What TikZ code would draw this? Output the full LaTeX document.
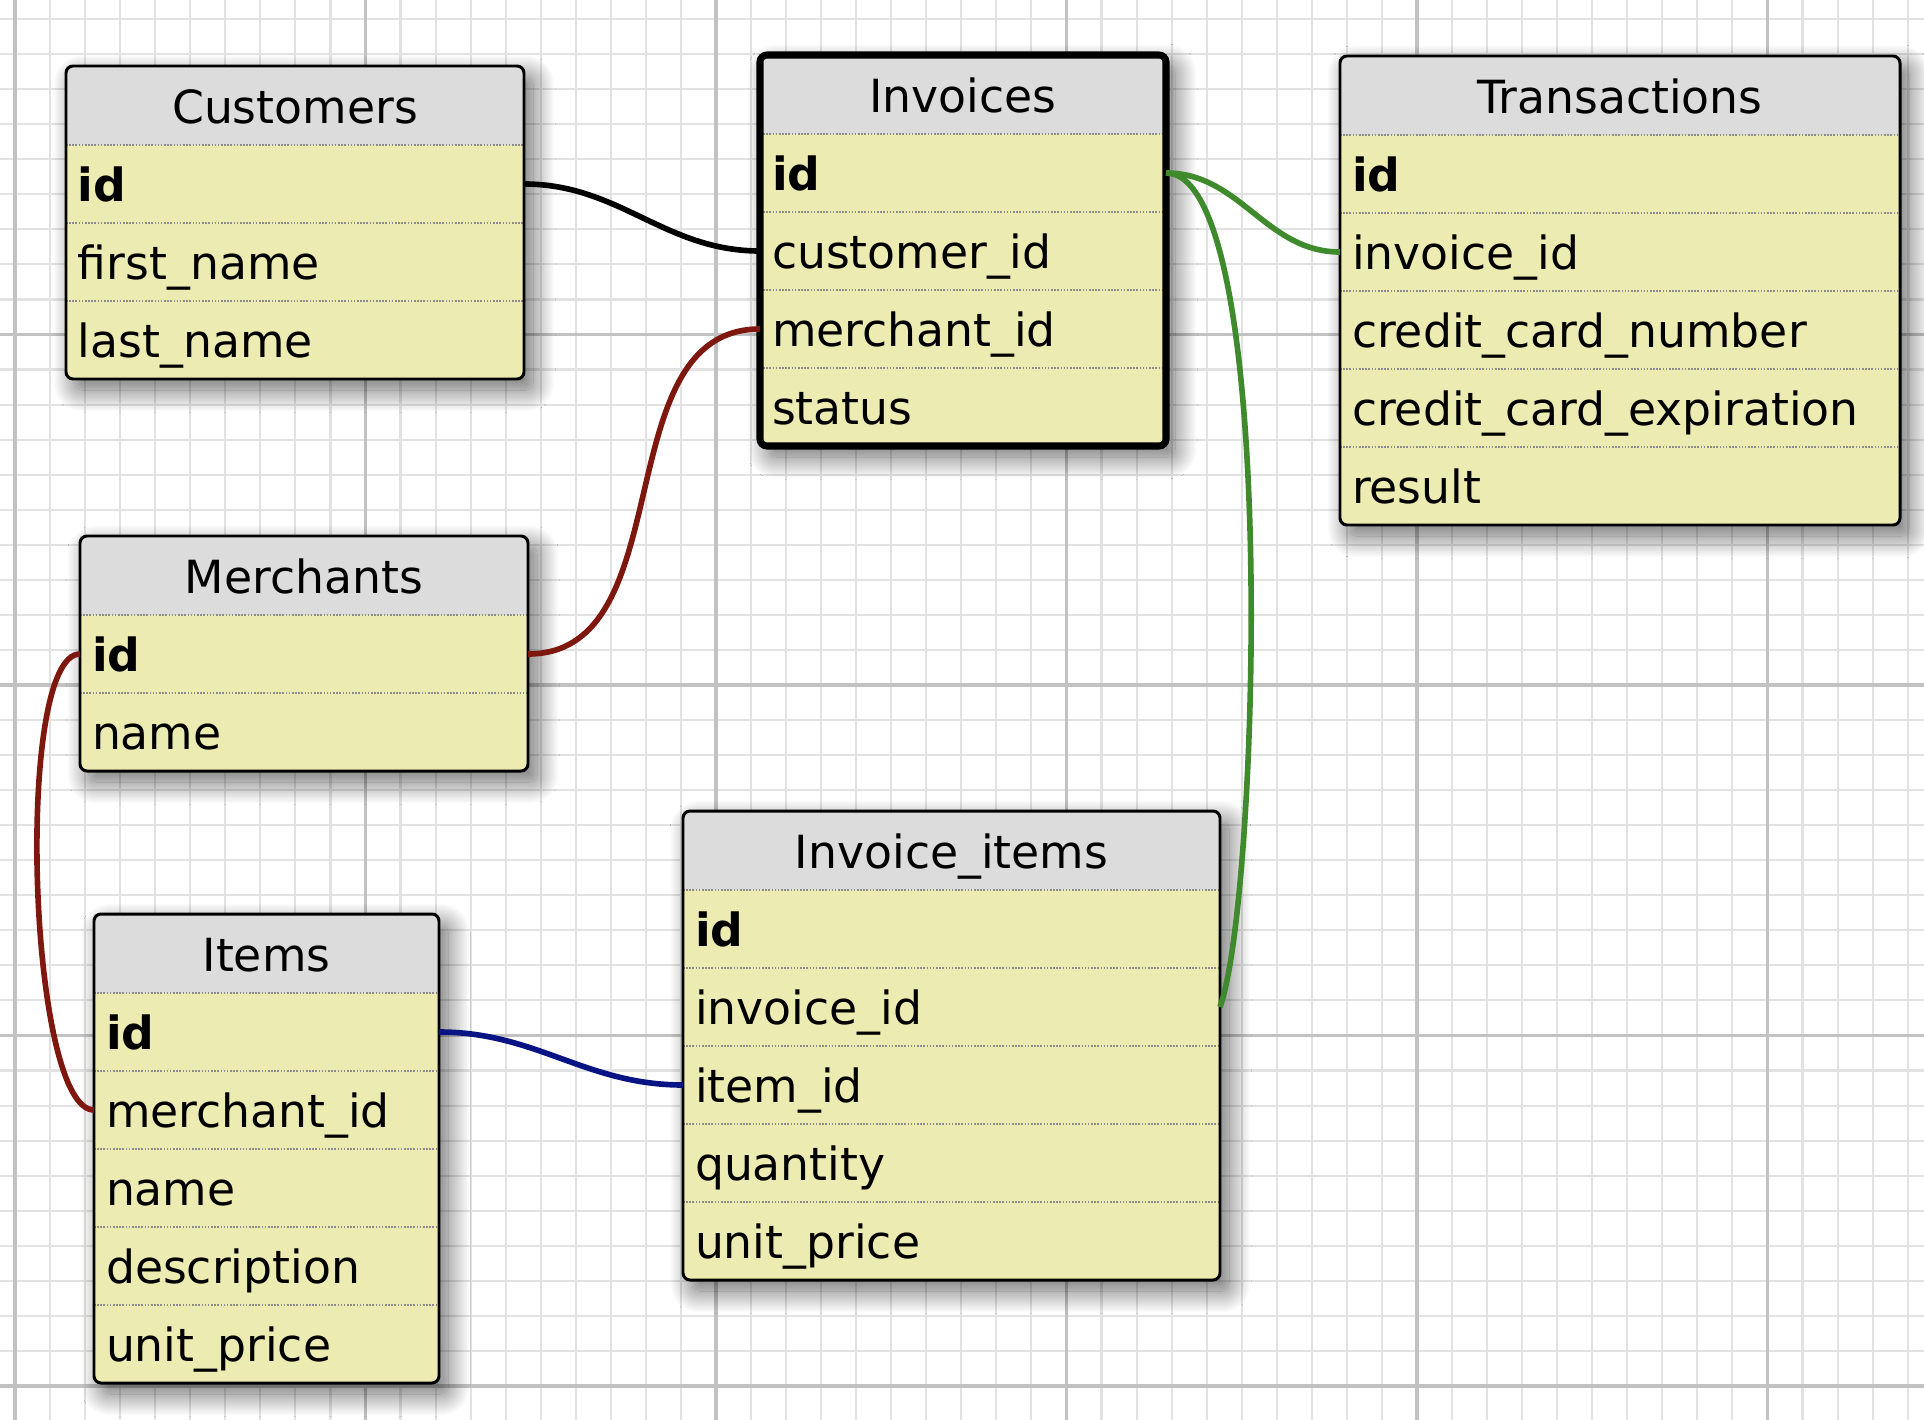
\documentclass[tikz,border=0pt]{standalone}
\usepackage{fontspec}
\setmainfont{DejaVu Sans}
\usetikzlibrary{positioning,backgrounds,shadows.blur}

\definecolor{headgray}{RGB}{220,220,220}
\definecolor{rowyellow}{RGB}{236,235,178}
\definecolor{minorline}{RGB}{226,226,226}
\definecolor{majorline}{RGB}{194,194,194}
\definecolor{fkred}{RGB}{126,24,14}
\definecolor{fkgreen}{RGB}{62,138,44}
\definecolor{fkblue}{RGB}{8,20,132}

\tikzset{
  head/.style={rectangle, fill=headgray, text width=#1, align=center,
    inner xsep=0.12cm, inner ysep=0pt, outer sep=0pt,
    text height=0.57cm, text depth=0.22cm, anchor=north west,
    font=\fontsize{13}{15}\selectfont},
  field/.style={rectangle, text width=#1, align=left,
    inner xsep=0.12cm, inner ysep=0pt, outer sep=0pt,
    text height=0.56cm, text depth=0.22cm,
    font=\fontsize{13}{15}\selectfont},
  rowsep/.style={draw=black!45, line width=0.5pt, dash pattern=on 0.45pt off 0.45pt},
  tblback/.style={fill=rowyellow, rounded corners=0.07cm,
    blur shadow={shadow xshift=0.09cm, shadow yshift=-0.11cm,
      shadow blur radius=0.22cm, shadow blur steps=28, shadow opacity=60}},
  tblframe/.style={draw=black, line width=#1, rounded corners=0.07cm},
  link/.style={line width=1.6pt},
  gridminor/.style={draw=minorline, line width=0.6pt},
  gridmajor/.style={draw=majorline, line width=1pt},
}

\begin{document}
\begin{tikzpicture}
  \useasboundingbox (0,0) rectangle (19.24,-14.2);

  % Customers
  \node[head=4.34cm] (cust-head) at (0.66,-0.66) {Customers};
  \foreach \n/\t [remember=\n as \p (initially head)] in
      {id/\textbf{id}, first/first\_name, last/last\_name}{
    \node[field=4.34cm, below=0pt of cust-\p] (cust-\n) {\t};
    \draw[rowsep] (cust-\n.north west) -- (cust-\n.north east);
  }

  % Invoices
  \node[head=3.82cm] (inv-head) at (7.60,-0.55) {Invoices};
  \foreach \n/\t [remember=\n as \p (initially head)] in
      {id/\textbf{id}, cust/customer\_id, merch/merchant\_id, status/status}{
    \node[field=3.82cm, below=0pt of inv-\p] (inv-\n) {\t};
    \draw[rowsep] (inv-\n.north west) -- (inv-\n.north east);
  }

  % Transactions
  \node[head=5.36cm] (trans-head) at (13.40,-0.56) {Transactions};
  \foreach \n/\t [remember=\n as \p (initially head)] in
      {id/\textbf{id}, inv/invoice\_id, ccnum/credit\_card\_number,
       ccexp/credit\_card\_expiration, result/result}{
    \node[field=5.36cm, below=0pt of trans-\p] (trans-\n) {\t};
    \draw[rowsep] (trans-\n.north west) -- (trans-\n.north east);
  }

  % Merchants
  \node[head=4.24cm] (merch-head) at (0.80,-5.36) {Merchants};
  \foreach \n/\t [remember=\n as \p (initially head)] in
      {id/\textbf{id}, name/name}{
    \node[field=4.24cm, below=0pt of merch-\p] (merch-\n) {\t};
    \draw[rowsep] (merch-\n.north west) -- (merch-\n.north east);
  }

  % Items
  \node[head=3.21cm] (items-head) at (0.94,-9.14) {Items};
  \foreach \n/\t [remember=\n as \p (initially head)] in
      {id/\textbf{id}, merch/merchant\_id, name/name, desc/description,
       price/unit\_price}{
    \node[field=3.21cm, below=0pt of items-\p] (items-\n) {\t};
    \draw[rowsep] (items-\n.north west) -- (items-\n.north east);
  }

  % Invoice_items
  \node[head=5.13cm] (ii-head) at (6.83,-8.11) {Invoice\_items};
  \foreach \n/\t [remember=\n as \p (initially head)] in
      {id/\textbf{id}, inv/invoice\_id, item/item\_id, qty/quantity,
       price/unit\_price}{
    \node[field=5.13cm, below=0pt of ii-\p] (ii-\n) {\t};
    \draw[rowsep] (ii-\n.north west) -- (ii-\n.north east);
  }

  % grid paper and table backs
  \begin{scope}[on background layer]
    \foreach \i in {0,...,54}
      \draw[gridminor] ({0.15+0.3505*\i},0) -- ++(0,-14.2);
    \foreach \j in {1,...,40}
      \draw[gridminor] (0,{0.16-0.3505*\j}) -- ++(19.24,0);
    \foreach \i in {0,...,5}
      \draw[gridmajor] ({0.15+3.505*\i},0) -- ++(0,-14.2);
    \foreach \j in {1,...,4}
      \draw[gridmajor] (0,{0.16-3.505*\j}) -- ++(19.24,0);
    \foreach \tb/\last in {cust/last, inv/status, trans/result,
        merch/name, items/price, ii/price}
      \path[tblback] (\tb-head.north west) rectangle (\tb-\last.south east);
  \end{scope}

  \foreach \tb/\last/\lw in {cust/last/0.85pt, inv/status/2pt,
      trans/result/0.85pt, merch/name/0.85pt, items/price/0.85pt,
      ii/price/0.85pt}
    \draw[tblframe=\lw] (\tb-head.north west) rectangle (\tb-\last.south east);

  % relations
  \draw[link, black] (cust-id.east) to[out=0,in=180] (inv-cust.west);
  \draw[link, fkred] (merch-id.east) to[out=0,in=180] (inv-merch.west);
  \draw[link, fkred] (merch-id.west) to[out=180,in=180,looseness=0.37] (items-merch.west);
  \draw[link, fkblue] (items-id.east) to[out=0,in=180] (ii-item.west);
  \draw[link, fkgreen] (inv-id.east) to[out=0,in=180] (trans-inv.west);
  \draw[link, fkgreen] (inv-id.east) to[out=0,in=70,looseness=0.35] (ii-inv.east);
\end{tikzpicture}
\end{document}
